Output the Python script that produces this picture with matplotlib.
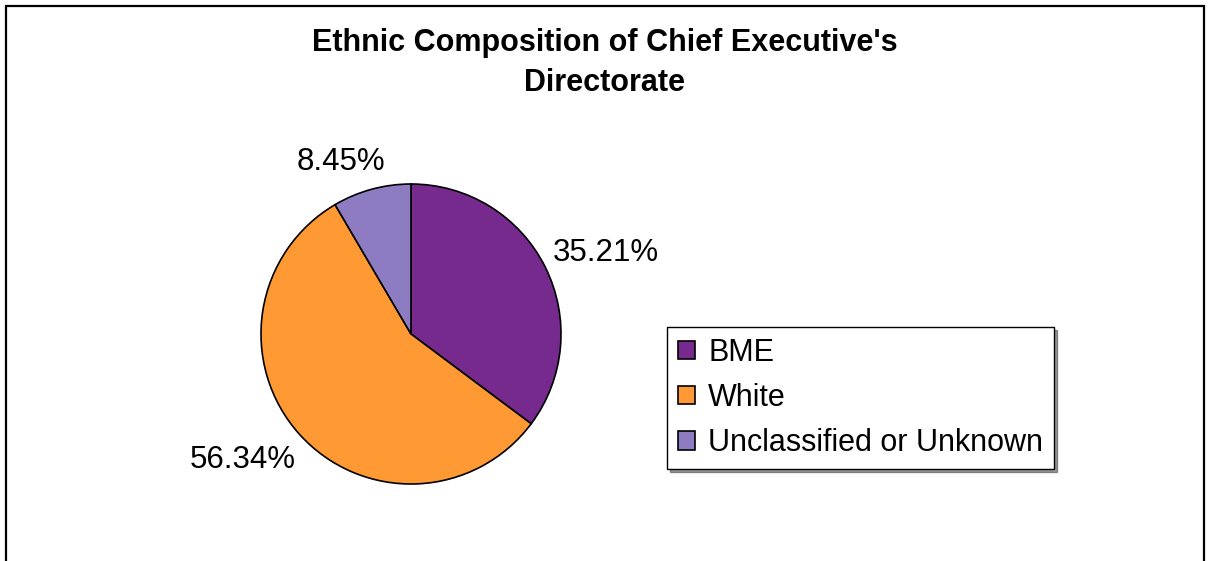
import numpy as np
import matplotlib.pyplot as plt
from matplotlib.patches import Rectangle

# ethnic breakdown of staff
categories = ["BME", "White", "Unclassified or Unknown"]
shares = [35.21, 56.34, 8.45]
colours = ["#772A8E", "#FF9933", "#8E7CC3"]

# how far out each percentage label sits (in pie radii) and its angle tweak
label_dist = [1.41, 1.40, 1.24]
label_tilt = [-4, -5, 7]

plt.rcParams['font.family'] = ['Liberation Sans', 'DejaVu Sans']

W, H = 1208, 561
fig = plt.figure(figsize=(W / 100, H / 100), dpi=100)

# outer frame (open at the bottom)
fig.add_artist(Rectangle((6 / W, -0.1), (1204 - 6) / W, 1.1 - 5.5 / H,
                         transform=fig.transFigure, fill=False,
                         edgecolor="black", linewidth=1.6, clip_on=False))

fig.text(605 / W, 1 - 63 / H,
         "Ethnic Composition of Chief Executive's\nDirectorate",
         ha="center", va="center", fontsize=22, fontweight="bold",
         linespacing=1.42)

# pie: centre (411, 334) px, radius 150 px
ax = fig.add_axes([(411 - 150) / W, (H - 484) / H, 300 / W, 300 / H])
wedges, texts = ax.pie(
    shares, colors=colours, startangle=90, counterclock=False,
    labels=[f"{s:.2f}%" for s in shares],
    wedgeprops=dict(edgecolor="black", linewidth=1.2),
    textprops=dict(fontsize=22.5),
)
for w, t, d, tilt in zip(wedges, texts, label_dist, label_tilt):
    ang = np.deg2rad((w.theta1 + w.theta2) / 2 + tilt)
    t.set_position((d * np.cos(ang), d * np.sin(ang)))
    t.set_ha("center")
    t.set_va("center")
ax.set_xlim(-1, 1)
ax.set_ylim(-1, 1)
ax.set_aspect("equal")

leg = fig.legend(wedges, categories, loc="upper left",
                 bbox_to_anchor=(667 / W, 1 - 327 / H),
                 fontsize=22, frameon=True, fancybox=False,
                 edgecolor="black", handlelength=0.55, handleheight=0.55,
                 handletextpad=0.45, labelspacing=0.5, borderpad=0.35,
                 borderaxespad=0, shadow={'color': '0.2'})
leg.get_frame().set_linewidth(1.0)

fig.savefig("out.png", dpi=100)
